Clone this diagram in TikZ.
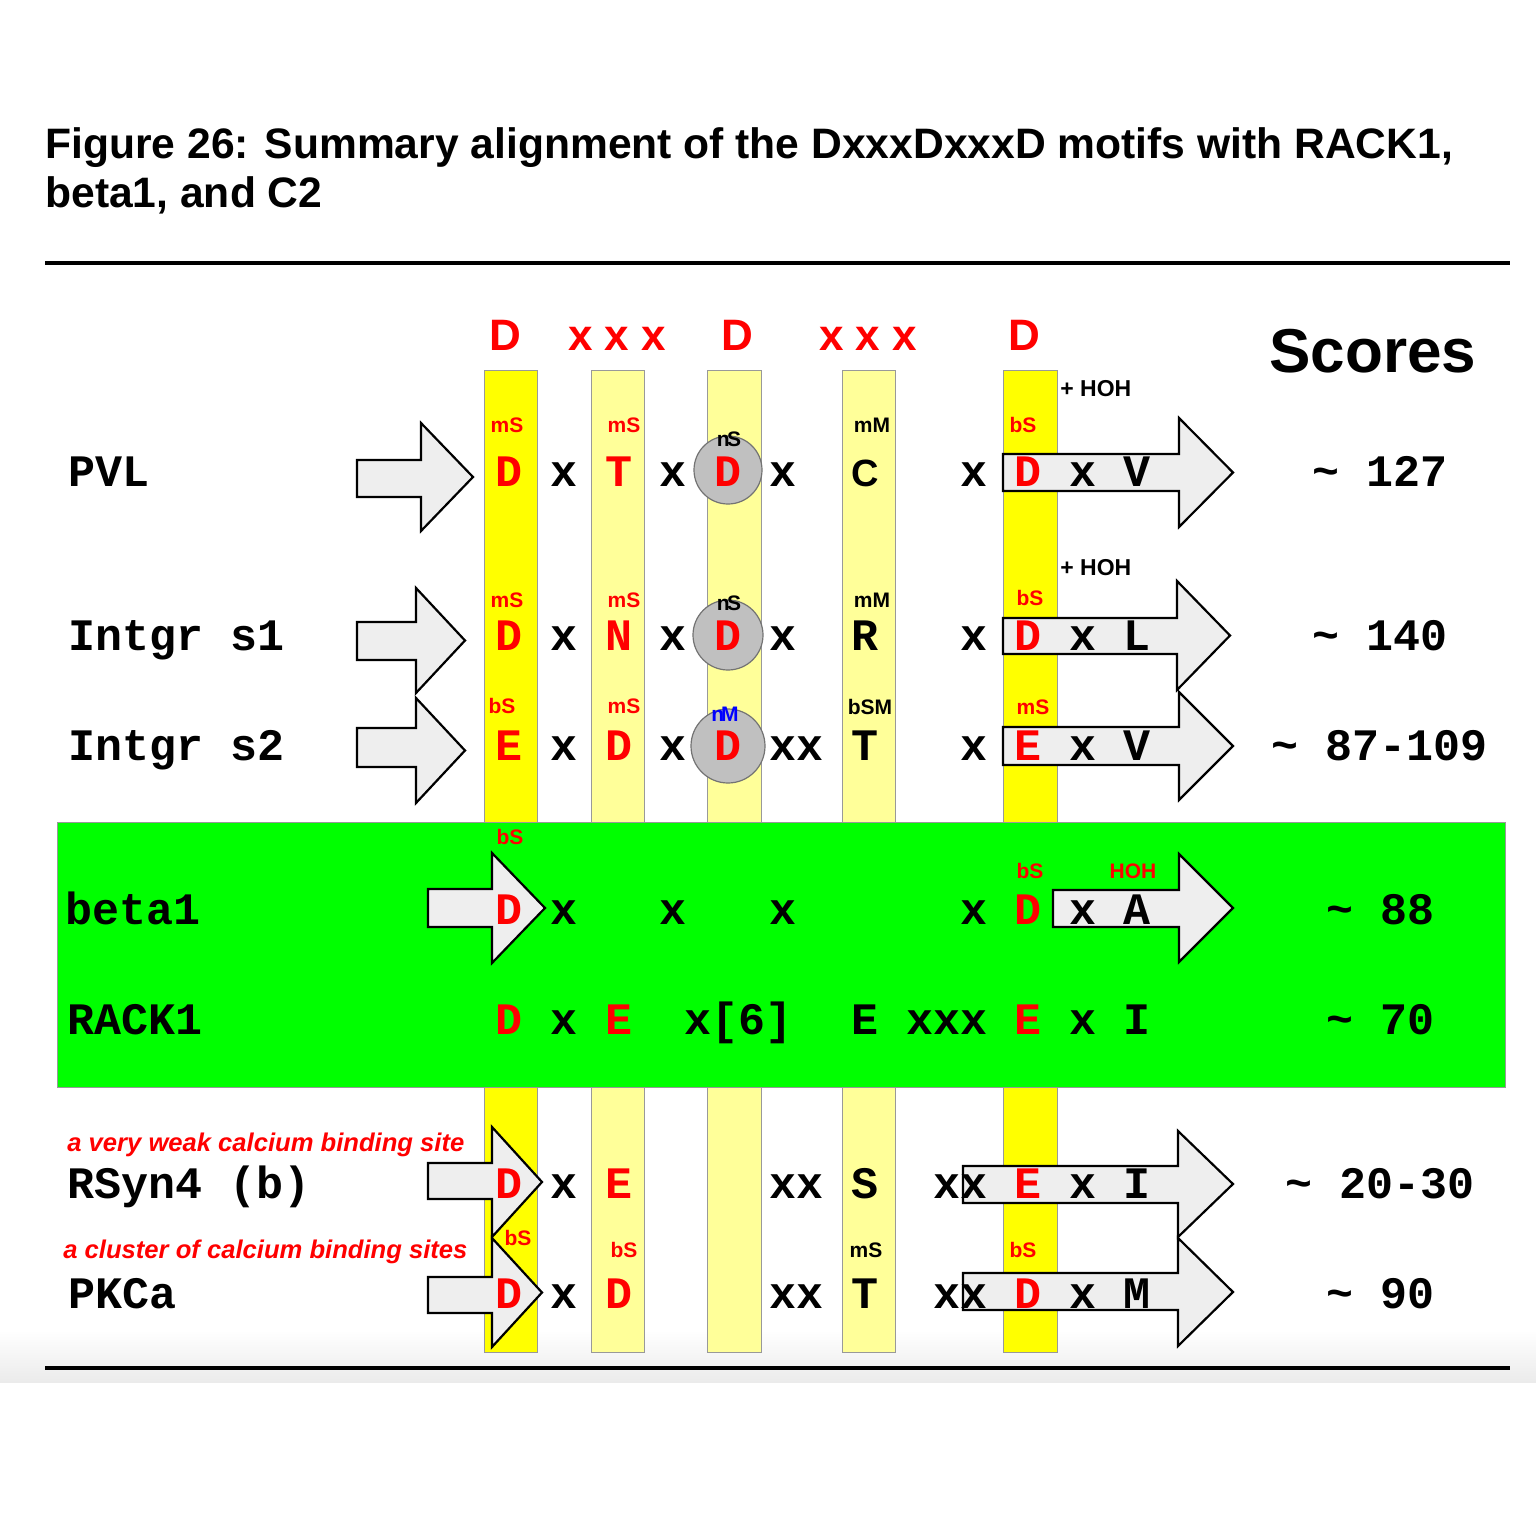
\documentclass[tikz,border=0pt]{standalone}
\usepackage{fontspec}
\setmainfont{Liberation Sans}
\newfontfamily\monof{Liberation Mono}
\definecolor{byel}{HTML}{FFFF00}
\definecolor{lyel}{HTML}{FFFF99}
\definecolor{gbox}{HTML}{00FF00}
\definecolor{afill}{HTML}{EEEEEE}
\definecolor{cgray}{HTML}{C0C0C0}
\definecolor{bandgray}{HTML}{EBEBEB}
\tikzset{
  seq/.style={font=\monof\bfseries\fontsize{22.5}{24}\selectfont, anchor=base, inner sep=0pt},
  seqr/.style={seq, text=red},
  rowlab/.style={font=\monof\bfseries\fontsize{22.5}{24}\selectfont, anchor=base west, inner sep=0pt},
  score/.style={font=\monof\bfseries\fontsize{22.5}{24}\selectfont, anchor=base, inner sep=0pt},
  sml/.style={font=\bfseries\fontsize{10.5}{12}\selectfont, anchor=base, inner sep=0pt},
  smlr/.style={sml, text=red},
  hoh/.style={font=\bfseries\fontsize{11.5}{13}\selectfont, anchor=base west, inner sep=0pt},
  hdr/.style={font=\bfseries\fontsize{22}{24}\selectfont, anchor=base, inner sep=0pt, text=red},
  note/.style={font=\bfseries\itshape\fontsize{12.8}{14}\selectfont, anchor=base west, inner sep=0pt, text=red},
  stripb/.style={fill=byel, draw=black!40, line width=0.5pt},
  stripl/.style={fill=lyel, draw=black!40, line width=0.5pt},
  blk/.style={fill=afill, draw=black, line width=1.1pt, line join=miter},
  circ/.style={fill=cgray, draw=black!55, line width=0.6pt},
  rulel/.style={line width=2pt, draw=black}
}
\newcommand\barrow[8]{% name, xleft, xbase, xtip, shaft top, shaft bottom, head top, head bottom
  \draw[blk] (#2,#5) -- (#3,#5) -- (#3,#7) -- (#4,{(#7+#8)/2}) coordinate (#1) -- (#3,#8) -- (#3,#6) -- (#2,#6) -- cycle;}
\begin{document}
\begin{tikzpicture}[x=0.5pt,y=-0.5pt]
\useasboundingbox (0,0) rectangle (1536,1536);
\fill[white] (0,0) rectangle (1536,1536);
% bottom band
\shade[top color=white, bottom color=bandgray] (0,1330) rectangle (1536,1382);

% title
\node[font=\bfseries\fontsize{21.3}{24}\selectfont, anchor=base west, inner sep=0pt] (t1) at (45,158) {Figure 26: Summary alignment of the DxxxDxxxD motifs with RACK1,};
\node[font=\bfseries\fontsize{21.3}{24}\selectfont, anchor=base west, inner sep=0pt] (t2) at (45,207) {beta1, and C2};
\coordinate (r1a) at (45,263); \coordinate (r1b) at (1510,263);
\draw[rulel] (r1a) -- (r1b);
\coordinate (r2a) at (45,1368); \coordinate (r2b) at (1510,1368);
\draw[rulel] (r2a) -- (r2b);

% strips
\draw[stripb] (484,370) rectangle (537,1352);
\draw[stripl] (591,370) rectangle (644,1352);
\draw[stripl] (707,370) rectangle (761,1352);
\draw[stripl] (842,370) rectangle (895,1352);
\draw[stripb] (1003,370) rectangle (1057,1352);

% green box
\draw[fill=gbox, draw=black!40, line width=0.5pt] (57,822) rectangle (1505,1087);

% header
\node[hdr] (h1) at (505,350) {D};
\node[hdr] (h2) at (617,350) {x x x};
\node[hdr] (h3) at (737,350) {D};
\node[hdr] (h4) at (868,350) {x x x};
\node[hdr] (h5) at (1024,350) {D};
\node[font=\bfseries\fontsize{31}{34}\selectfont, anchor=base, inner sep=0pt] (sc) at (1373,372) {Scores};

% circles
\draw[circ] (728,470) circle (34);
\draw[circ] (728,635) circle (35);
\draw[circ] (728,746) circle (37);

% arrows
\barrow{aL1}{357}{421}{473}{460}{497}{423}{531}
\barrow{aR1}{1003}{1179}{1233}{454}{491}{418}{527}
\barrow{aL2}{357}{416}{465}{622}{660}{588}{693}
\barrow{aR2}{1003}{1177}{1230}{618}{654}{581}{690}
\barrow{aL3}{357}{416}{465}{728}{767}{698}{803}
\barrow{aR3}{1003}{1179}{1233}{727}{765}{692}{800}
\barrow{aL4}{428}{492}{545}{889}{927}{853}{963}
\barrow{aR4}{1053}{1179}{1233}{890}{927}{854}{962}
\barrow{aL6}{428}{492}{542}{1163}{1199}{1127}{1237}
\barrow{aR6}{963}{1178}{1233}{1166}{1203}{1131}{1237}
\barrow{aL7}{428}{492}{542}{1277}{1313}{1238}{1347}
\barrow{aR7}{963}{1178}{1233}{1273}{1310}{1238}{1346}

% ---------- PVL (B=486)
\node[rowlab] (pvl) at (68,486) {PVL};
\node[seqr] at (509,486) {D};
\node[seq] at (564,486) {x};
\node[seqr] at (619,486) {T};
\node[seq] at (673,486) {x};
\node[seqr] at (728,486) {D};
\node[seq] at (783,486) {x};
\node[font=\bfseries\fontsize{19}{21}\selectfont, anchor=base, inner sep=0pt] at (865,486) {C};
\node[seq] at (974,486) {x};
\node[seqr] at (1028,486) {D};
\node[seq] at (1083,486) {x};
\node[seq] at (1137,486) {V};
\node[smlr] at (507,432) {mS};
\node[smlr] at (624,432) {mS};
\node[sml] at (729,446) {n\kern-0.12em S};
\node[sml] at (872,432) {mM};
\node[smlr] at (1023,432) {bS};
\node[hoh] at (1060,396) {+ HOH};
\node[score] at (1380,486) {\char`\~{} 127};

% ---------- Intgr s1 (B=650)
\node[rowlab] (is1) at (68,650) {Intgr s1};
\node[seqr] at (509,650) {D};
\node[seq] at (564,650) {x};
\node[seqr] at (619,650) {N};
\node[seq] at (673,650) {x};
\node[seqr] at (728,650) {D};
\node[seq] at (783,650) {x};
\node[seq] at (865,650) {R};
\node[seq] at (974,650) {x};
\node[seqr] at (1028,650) {D};
\node[seq] at (1083,650) {x};
\node[seq] at (1137,650) {L};
\node[smlr] at (507,607) {mS};
\node[smlr] at (624,607) {mS};
\node[sml] at (729,610) {n\kern-0.12em S};
\node[sml] at (872,607) {mM};
\node[smlr] at (1030,605) {bS};
\node[hoh] at (1060,575) {+ HOH};
\node[score] at (1380,650) {\char`\~{} 140};

% ---------- Intgr s2 (B=760)
\node[rowlab] (is2) at (68,760) {Intgr s2};
\node[seqr] at (509,760) {E};
\node[seq] at (564,760) {x};
\node[seqr] at (619,760) {D};
\node[seq] at (673,760) {x};
\node[seqr] at (728,760) {D};
\node[seq] at (796,760) {xx};
\node[seq] at (865,760) {T};
\node[seq] at (974,760) {x};
\node[seqr] at (1028,760) {E};
\node[seq] at (1083,760) {x};
\node[seq] at (1137,760) {V};
\node[smlr] at (502,713) {bS};
\node[smlr] at (624,713) {mS};
\node[sml, text=blue] at (725,721) {n\kern-0.15em M};
\node[sml] at (870,714) {bSM};
\node[smlr] at (1033,714) {mS};
\node[score] at (1380,760) {\char`\~{} 87-109};

% ---------- beta1 (B=924)
\node[rowlab] (b1) at (65,924) {beta1};
\node[seqr] at (509,924) {D};
\node[seq] at (564,924) {x};
\node[seq] at (673,924) {x};
\node[seq] at (783,924) {x};
\node[seq] at (974,924) {x};
\node[seqr] at (1028,924) {D};
\node[seq] at (1083,924) {x};
\node[seq] at (1137,924) {A};
\node[smlr] at (510,844) {bS};
\node[smlr] at (1030,878) {bS};
\node[smlr] at (1133,878) {HOH};
\node[score] at (1380,924) {\char`\~{} 88};

% ---------- RACK1 (B=1034)
\node[rowlab] (rk) at (67,1034) {RACK1};
\node[seqr] at (509,1034) {D};
\node[seq] at (564,1034) {x};
\node[seqr] at (619,1034) {E};
\node[seq] at (739,1034) {x[6]};
\node[seq] at (865,1034) {E};
\node[seq] at (947,1034) {xxx};
\node[seqr] at (1028,1034) {E};
\node[seq] at (1083,1034) {x};
\node[seq] at (1137,1034) {I};
\node[score] at (1380,1034) {\char`\~{} 70};

% ---------- RSyn4 (B=1198)
\node[note] (n1) at (67,1151) {a very weak calcium binding site};
\node[rowlab] (rs) at (67,1198) {RSyn4 (b)};
\node[seqr] at (509,1198) {D};
\node[seq] at (564,1198) {x};
\node[seqr] at (619,1198) {E};
\node[seq] at (796,1198) {xx};
\node[seq] at (865,1198) {S};
\node[seq] at (960,1198) {xx};
\node[seqr] at (1028,1198) {E};
\node[seq] at (1083,1198) {x};
\node[seq] at (1137,1198) {I};
\node[score] at (1380,1198) {\char`\~{} 20-30};

% ---------- PKCa (B=1308)
\node[note] (n2) at (63,1258) {a cluster of calcium binding sites};
\node[rowlab] (pk) at (68,1308) {PKCa};
\node[seqr] at (509,1308) {D};
\node[seq] at (564,1308) {x};
\node[seqr] at (619,1308) {D};
\node[seq] at (796,1308) {xx};
\node[seq] at (865,1308) {T};
\node[seq] at (960,1308) {xx};
\node[seqr] at (1028,1308) {D};
\node[seq] at (1083,1308) {x};
\node[seq] at (1137,1308) {M};
\node[smlr] at (518,1245) {bS};
\node[smlr] at (624,1257) {bS};
\node[sml] at (866,1257) {mS};
\node[smlr] at (1023,1257) {bS};
\node[score] at (1380,1308) {\char`\~{} 90};
\end{tikzpicture}
\end{document}
